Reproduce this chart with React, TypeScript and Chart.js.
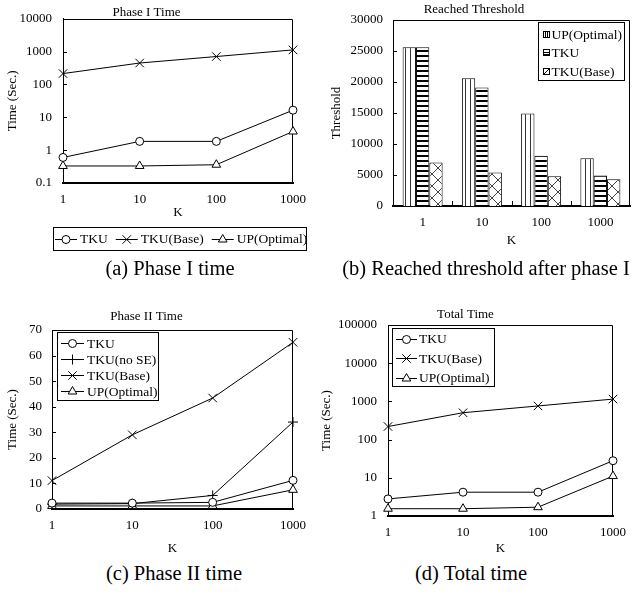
import React, { useEffect, useRef } from 'react';
import { Chart, registerables } from 'chart.js';

Chart.register(...registerables);

const FONT = '"Liberation Serif", "Times New Roman", Times, serif';

// ---------- data ----------
const kLabels = ['1', '10', '100', '1000'];

// (a) Phase I time (log scale)
const phase1TKU = [0.6, 1.85, 1.85, 16.5];
const phase1Base = [215, 450, 710, 1130];
const phase1UP = [0.33, 0.33, 0.36, 3.7];
const phase1Ticks = [0.1, 1, 10, 100, 1000, 10000];

// (b) Reached threshold
const thresholdUP = [25600, 20600, 14900, 7700];
const thresholdTKU = [25600, 19100, 8100, 4900];
const thresholdBase = [7000, 5400, 4800, 4300];

// (c) Phase II time
const phase2TKU = [2.3, 2.3, 2.6, 11.2];
const phase2NoSE = [1.9, 2.1, 5.3, 34];
const phase2Base = [11.1, 29, 43.4, 65.2];
const phase2UP = [1.2, 1.2, 1.2, 7.5];

// (d) Total time (log scale)
const totalTKU = [2.8, 4.2, 4.2, 28];
const totalBase = [220, 505, 760, 1150];
const totalUP = [1.55, 1.55, 1.7, 11.1];
const totalTicks = [1, 10, 100, 1000, 10000, 100000];

// ---------- helpers ----------
type Marker = 'circle' | 'crossRot' | 'triangle' | 'cross';
type Swatch = 'vert' | 'horiz' | 'cross';
const RADIUS: Record<Marker, number> = { circle: 4, crossRot: 6, triangle: 5, cross: 5 };

function lineDs(label: string, data: number[], marker: Marker) {
  return {
    label,
    data,
    pointStyle: marker,
    pointRadius: RADIUS[marker],
    borderColor: '#000',
    borderWidth: 1,
    pointBorderColor: '#000',
    pointBackgroundColor: '#fff',
    pointBorderWidth: 1,
    tension: 0,
    fill: false,
    clip: false as any,
  };
}

function drawMarker(ctx: CanvasRenderingContext2D, m: Marker, x: number, y: number) {
  const r = RADIUS[m];
  ctx.beginPath();
  if (m === 'circle') {
    ctx.arc(x, y, r, 0, Math.PI * 2);
    ctx.fill();
    ctx.stroke();
  } else if (m === 'triangle') {
    let a = 0;
    ctx.moveTo(x + Math.sin(a) * r, y - Math.cos(a) * r);
    a += (2 * Math.PI) / 3;
    ctx.lineTo(x + Math.sin(a) * r, y - Math.cos(a) * r);
    a += (2 * Math.PI) / 3;
    ctx.lineTo(x + Math.sin(a) * r, y - Math.cos(a) * r);
    ctx.closePath();
    ctx.fill();
    ctx.stroke();
  } else if (m === 'crossRot') {
    const o = Math.cos(Math.PI / 4) * r;
    ctx.moveTo(x - o, y - o);
    ctx.lineTo(x + o, y + o);
    ctx.moveTo(x + o, y - o);
    ctx.lineTo(x - o, y + o);
    ctx.stroke();
  } else {
    ctx.moveTo(x - r, y);
    ctx.lineTo(x + r, y);
    ctx.moveTo(x, y - r);
    ctx.lineTo(x, y + r);
    ctx.stroke();
  }
}

function makePattern(kind: Swatch): CanvasPattern {
  const c = document.createElement('canvas');
  const g = c.getContext('2d')!;
  if (kind === 'vert') {
    c.width = 5;
    c.height = 4;
    g.fillStyle = '#fff';
    g.fillRect(0, 0, 5, 4);
    g.fillStyle = '#333';
    g.fillRect(2, 0, 1, 4);
  } else if (kind === 'horiz') {
    c.width = 5;
    c.height = 5;
    g.fillStyle = '#fff';
    g.fillRect(0, 0, 5, 5);
    g.fillStyle = '#000';
    g.fillRect(0, 0, 5, 2);
  } else {
    c.width = 12;
    c.height = 12;
    g.fillStyle = '#fff';
    g.fillRect(0, 0, 12, 12);
    g.strokeStyle = '#444';
    g.lineWidth = 1;
    g.beginPath();
    g.moveTo(0, 0);
    g.lineTo(12, 12);
    g.moveTo(12, 0);
    g.lineTo(0, 12);
    g.stroke();
  }
  return g.createPattern(c, 'repeat')!;
}

function drawSwatch(ctx: CanvasRenderingContext2D, kind: Swatch, x: number, y: number, s: number) {
  ctx.fillStyle = '#fff';
  ctx.fillRect(x, y, s, s);
  ctx.strokeStyle = '#000';
  ctx.lineWidth = 1;
  ctx.strokeRect(x + 0.5, y + 0.5, s - 1, s - 1);
  ctx.beginPath();
  if (kind === 'vert') {
    ctx.moveTo(x + 2.5, y);
    ctx.lineTo(x + 2.5, y + s);
    ctx.moveTo(x + 4.5, y);
    ctx.lineTo(x + 4.5, y + s);
  } else if (kind === 'horiz') {
    ctx.moveTo(x, y + s / 2);
    ctx.lineTo(x + s, y + s / 2);
    ctx.moveTo(x, y + s - 1.5);
    ctx.lineTo(x + s, y + s - 1.5);
  } else {
    ctx.moveTo(x + 1, y + s - 1);
    ctx.lineTo(x + s - 1, y + 1);
  }
  ctx.stroke();
}

interface LegendLayout {
  x: number;
  y: number;
  w: number;
  h: number;
  dir: 'row' | 'col';
  first: number;
  step: number;
  lineStart: number;
  lineLen: number;
  textGap: number;
  itemGap: number;
  swatches?: Swatch[];
}

function boxLegend(L: LegendLayout) {
  return {
    id: 'boxLegend',
    afterDraw(chart: any) {
      const ctx: CanvasRenderingContext2D = chart.ctx;
      ctx.save();
      ctx.fillStyle = '#fff';
      ctx.fillRect(L.x, L.y, L.w, L.h);
      ctx.strokeStyle = '#000';
      ctx.lineWidth = 1;
      ctx.strokeRect(L.x + 0.5, L.y + 0.5, L.w, L.h);
      ctx.font = `13.5px ${FONT}`;
      ctx.textBaseline = 'middle';
      ctx.textAlign = 'left';
      let cx = L.x + L.lineStart;
      chart.data.datasets.forEach((ds: any, i: number) => {
        const cy = L.dir === 'col' ? L.y + L.first + i * L.step : L.y + L.first;
        const sx = L.dir === 'col' ? L.x + L.lineStart : cx;
        if (L.swatches) {
          drawSwatch(ctx, L.swatches[i], sx, Math.round(cy - L.lineLen / 2), L.lineLen);
        } else {
          ctx.strokeStyle = '#000';
          ctx.lineWidth = 1;
          ctx.beginPath();
          ctx.moveTo(sx, Math.round(cy) + 0.5);
          ctx.lineTo(sx + L.lineLen, Math.round(cy) + 0.5);
          ctx.stroke();
          ctx.fillStyle = '#fff';
          drawMarker(ctx, ds.pointStyle, sx + L.lineLen / 2, Math.round(cy) + 0.5);
        }
        const tx = sx + L.lineLen + L.textGap;
        ctx.fillStyle = '#000';
        ctx.fillText(ds.label, tx, cy + 1);
        cx = tx + ctx.measureText(ds.label).width + L.itemGap;
      });
      ctx.restore();
    },
  };
}

function framePlugin(xBoundaryTicks: boolean) {
  return {
    id: 'frame',
    beforeDatasetsDraw(chart: any) {
      const { ctx, chartArea: a, scales } = chart;
      ctx.save();
      ctx.strokeStyle = '#000';
      ctx.lineWidth = 1;
      ctx.beginPath();
      const t = Math.round(a.top) + 0.5;
      const r = Math.round(a.right) - 0.5;
      ctx.moveTo(a.left, t);
      ctx.lineTo(r, t);
      ctx.lineTo(r, a.bottom);
      const y = scales.y;
      y.ticks.forEach((_: any, i: number) => {
        const py = Math.round(y.getPixelForTick(i)) + 0.5;
        ctx.moveTo(a.left, py);
        ctx.lineTo(a.left + 4, py);
      });
      if (xBoundaryTicks) {
        const x = scales.x;
        for (let i = 1; i < x.ticks.length; i++) {
          const px = Math.round((x.getPixelForTick(i - 1) + x.getPixelForTick(i)) / 2) + 0.5;
          ctx.moveTo(px, a.bottom);
          ctx.lineTo(px, a.bottom - 5);
        }
      }
      ctx.stroke();
      ctx.restore();
    },
  };
}

interface AxisCfg {
  title: string;
  titleTop: number;
  titleBottom: number;
  padRight: number;
  padBottom: number;
  xHeight: number;
  yWidth: number;
  yTickPad: number;
  yTitle: string;
  yTitlePad: number;
  yType: 'linear' | 'logarithmic';
  yMin: number;
  yMax: number;
  yStep?: number;
  yTicks?: number[];
  xOffset: boolean;
}

function chartOptions(c: AxisCfg): any {
  const tickFont = { family: FONT, size: 13 };
  const yScale: any = {
    type: c.yType,
    min: c.yMin,
    max: c.yMax,
    grid: { display: false, drawTicks: false },
    border: { display: true, color: '#000', width: 1 },
    ticks: {
      color: '#000',
      font: tickFont,
      padding: c.yTickPad,
      callback: (v: any) => String(v),
      ...(c.yStep ? { stepSize: c.yStep } : {}),
    },
    title: {
      display: true,
      text: c.yTitle,
      color: '#000',
      font: { family: FONT, size: 13 },
      padding: { top: c.yTitlePad, bottom: 0 },
    },
    afterFit: (s: any) => {
      s.width = c.yWidth;
    },
  };
  if (c.yTicks) {
    const tv = c.yTicks;
    yScale.afterBuildTicks = (s: any) => {
      s.ticks = tv.map((v) => ({ value: v }));
    };
  }
  return {
    responsive: false,
    animation: false,
    events: [],
    layout: { padding: { left: 0, top: 0, right: c.padRight, bottom: c.padBottom } },
    plugins: {
      legend: { display: false },
      tooltip: { enabled: false },
      title: {
        display: true,
        text: c.title,
        color: '#000',
        font: { family: FONT, size: 13, weight: 'normal', lineHeight: 1 },
        padding: { top: c.titleTop, bottom: c.titleBottom },
      },
    },
    scales: {
      x: {
        type: 'category',
        offset: c.xOffset,
        grid: { display: false, drawTicks: false },
        border: { display: true, color: '#000', width: 2 },
        ticks: { color: '#000', font: tickFont, padding: 9, maxRotation: 0, autoSkip: false },
        title: {
          display: true,
          text: 'K',
          color: '#000',
          font: { family: FONT, size: 13 },
          padding: { top: 0, bottom: 0 },
        },
        afterFit: (s: any) => {
          s.height = c.xHeight;
        },
      },
      y: yScale,
    },
  };
}

// ---------- chart builders ----------
function buildA(cv: HTMLCanvasElement) {
  return new Chart(cv, {
    type: 'line',
    data: {
      labels: kLabels,
      datasets: [
        lineDs('TKU', phase1TKU, 'circle'),
        lineDs('TKU(Base)', phase1Base, 'crossRot'),
        lineDs('UP(Optimal)', phase1UP, 'triangle'),
      ] as any,
    },
    options: chartOptions({
      title: 'Phase I Time',
      titleTop: 3,
      titleBottom: 0,
      padRight: 25,
      padBottom: 38,
      xHeight: 37,
      yWidth: 63,
      yTickPad: 11,
      yTitle: 'Time (Sec.)',
      yTitlePad: 5,
      yType: 'logarithmic',
      yMin: 0.1,
      yMax: 10000,
      yTicks: phase1Ticks,
      xOffset: false,
    }),
    plugins: [
      framePlugin(false),
      boxLegend({ x: 53, y: 227, w: 253, h: 23, dir: 'row', first: 11.5, step: 0, lineStart: 2, lineLen: 22, textGap: 3, itemGap: 8 }),
    ],
  });
}

function buildB(cv: HTMLCanvasElement) {
  const pats = { vert: makePattern('vert'), horiz: makePattern('horiz'), cross: makePattern('cross') };
  const barDs = (label: string, data: number[], p: CanvasPattern) => ({
    label,
    data,
    backgroundColor: p,
    borderColor: '#000',
    borderWidth: 1,
    categoryPercentage: 0.675,
    barPercentage: 1,
  });
  return new Chart(cv, {
    type: 'bar',
    data: {
      labels: kLabels,
      datasets: [
        barDs('UP(Optimal)', thresholdUP, pats.vert),
        barDs('TKU', thresholdTKU, pats.horiz),
        barDs('TKU(Base)', thresholdBase, pats.cross),
      ] as any,
    },
    options: chartOptions({
      title: 'Reached Threshold',
      titleTop: 3,
      titleBottom: 4,
      padRight: 7,
      padBottom: 10,
      xHeight: 42,
      yWidth: 75,
      yTickPad: 10,
      yTitle: 'Threshold',
      yTitlePad: 11,
      yType: 'linear',
      yMin: 0,
      yMax: 30000,
      yStep: 5000,
      xOffset: true,
    }),
    plugins: [
      framePlugin(true),
      boxLegend({ x: 220, y: 22, w: 86, h: 58, dir: 'col', first: 12, step: 18.5, lineStart: 5, lineLen: 7, textGap: 1.5, itemGap: 0, swatches: ['vert', 'horiz', 'cross'] }),
    ],
  });
}

function buildC(cv: HTMLCanvasElement) {
  return new Chart(cv, {
    type: 'line',
    data: {
      labels: kLabels,
      datasets: [
        lineDs('TKU', phase2TKU, 'circle'),
        lineDs('TKU(no SE)', phase2NoSE, 'cross'),
        lineDs('TKU(Base)', phase2Base, 'crossRot'),
        lineDs('UP(Optimal)', phase2UP, 'triangle'),
      ] as any,
    },
    options: chartOptions({
      title: 'Phase II Time',
      titleTop: 15.5,
      titleBottom: 6.5,
      padRight: 25,
      padBottom: 1,
      xHeight: 47,
      yWidth: 52,
      yTickPad: 10,
      yTitle: 'Time (Sec.)',
      yTitlePad: 5,
      yType: 'linear',
      yMin: 0,
      yMax: 70,
      yStep: 10,
      xOffset: false,
    }),
    plugins: [
      framePlugin(false),
      boxLegend({ x: 57, y: 37, w: 101, h: 68, dir: 'col', first: 11, step: 16, lineStart: 4, lineLen: 23, textGap: 3, itemGap: 0 }),
    ],
  });
}

function buildD(cv: HTMLCanvasElement) {
  return new Chart(cv, {
    type: 'line',
    data: {
      labels: kLabels,
      datasets: [
        lineDs('TKU', totalTKU, 'circle'),
        lineDs('TKU(Base)', totalBase, 'crossRot'),
        lineDs('UP(Optimal)', totalUP, 'triangle'),
      ] as any,
    },
    options: chartOptions({
      title: 'Total Time',
      titleTop: 13.5,
      titleBottom: 3.5,
      padRight: 24,
      padBottom: 1,
      xHeight: 40,
      yWidth: 70,
      yTickPad: 11,
      yTitle: 'Time (Sec.)',
      yTitlePad: 1,
      yType: 'logarithmic',
      yMin: 1,
      yMax: 100000,
      yTicks: totalTicks,
      xOffset: false,
    }),
    plugins: [
      framePlugin(false),
      boxLegend({ x: 74, y: 33, w: 102, h: 58, dir: 'col', first: 10.5, step: 19.5, lineStart: 4, lineLen: 21, textGap: 2, itemGap: 0 }),
    ],
  });
}

function ChartBox(props: { left: number; top: number; width: number; height: number; build: (c: HTMLCanvasElement) => Chart }) {
  const ref = useRef<HTMLCanvasElement | null>(null);
  useEffect(() => {
    if (!ref.current) return;
    const ch = props.build(ref.current);
    return () => ch.destroy();
  }, []);
  return (
    <canvas
      ref={ref}
      width={props.width}
      height={props.height}
      style={{ position: 'absolute', left: props.left, top: props.top, width: props.width, height: props.height }}
    />
  );
}

function Caption(props: { cx: number; cy: number; text: string }) {
  return (
    <div
      style={{
        position: 'absolute',
        left: props.cx - 200,
        top: props.cy - 12,
        width: 400,
        height: 24,
        lineHeight: '24px',
        textAlign: 'center',
        fontFamily: FONT,
        fontSize: 20.5,
        color: '#000',
        whiteSpace: 'nowrap',
      }}
    >
      {props.text}
    </div>
  );
}

export default function App() {
  return (
    <div style={{ position: 'absolute', left: 0, top: 0, width: 637, height: 595, background: '#fff', overflow: 'hidden' }}>
      <ChartBox left={0} top={0} width={318} height={258} build={buildA} />
      <ChartBox left={318} top={0} width={319} height={258} build={buildB} />
      <ChartBox left={0} top={295} width={318} height={262} build={buildC} />
      <ChartBox left={318} top={295} width={319} height={262} build={buildD} />
      <Caption cx={170} cy={268} text="(a) Phase I time" />
      <Caption cx={486} cy={268} text="(b) Reached threshold after phase I" />
      <Caption cx={174} cy={573} text="(c) Phase II time" />
      <Caption cx={471} cy={573} text="(d) Total time" />
    </div>
  );
}
